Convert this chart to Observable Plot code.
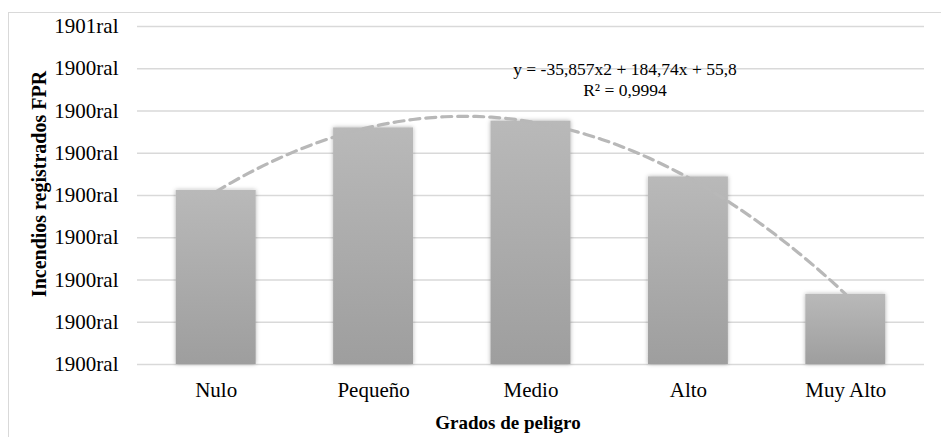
<!DOCTYPE html>
<html><head><meta charset="utf-8">
<script src="https://cdn.jsdelivr.net/npm/d3@7"></script>
<script src="https://cdn.jsdelivr.net/npm/@observablehq/plot@0.6"></script>
<style>
html,body{margin:0;padding:0;background:#fff;overflow:hidden;}
#wrap{position:relative;width:941px;height:437px;overflow:hidden;}
#frame{position:absolute;left:8px;top:12px;width:1100px;height:1100px;border:1.3px solid #d9d9d9;box-sizing:border-box;}
#chart{position:absolute;left:0;top:0;}
#chart svg text{font-family:'Liberation Serif','Times New Roman',serif;}
</style></head><body>
<div id="wrap"><div id="frame"></div><div id="chart"></div></div>
<script>
const categories = ["Nulo", "Pequeño", "Medio", "Alto", "Muy Alto"];
const values = [206, 280, 288, 222, 83];
const yTicks = [0, 50, 100, 150, 200, 250, 300, 350, 400];
const yTickLabels = ["1900ral", "1900ral", "1900ral", "1900ral", "1900ral", "1900ral", "1900ral", "1900ral", "1901ral"];
const trendCoefs = [-35.857, 184.74, 55.8];
const trendLabel = ["y = -35,857x2 + 184,74x + 55,8", "R² = 0,9994"];
const xTitle = "Grados de peligro";
const yTitle = "Incendios registrados FPR";

const positions = categories.map((c, i) => i + 1);
const data = categories.map((c, i) => ({cat: c, pos: positions[i], value: values[i]}));
const trend = d3.range(1, 5.0001, 0.05).map(t => ({t, v: trendCoefs[0] * t * t + trendCoefs[1] * t + trendCoefs[2]}));
const half = 0.254;

const chart = Plot.plot({
  width: 941, height: 437,
  marginLeft: 137, marginRight: 17, marginTop: 26, marginBottom: 73,
  style: {fontFamily: "'Liberation Serif', 'Times New Roman', serif", fontSize: "21px", color: "#000", background: "transparent", overflow: "visible"},
  x: {domain: [0.5, 5.5], axis: null},
  y: {domain: [0, 400], axis: null},
  marks: [
    Plot.gridY(yTicks, {stroke: "#d9d9d9", strokeOpacity: 1, strokeWidth: 1.3}),
    Plot.rectY(data, {x1: d => d.pos - half, x2: d => d.pos + half, y: "value", fill: "url(#barGrad)"}),
    Plot.line(trend, {x: "t", y: "v", stroke: "#b8b8b8", strokeWidth: 3.2, strokeDasharray: "10,6"}),
    Plot.axisY(yTicks, {tickFormat: d => yTickLabels[yTicks.indexOf(d)], tickSize: 0, tickPadding: 19, label: null, fontSize: 21}),
    Plot.axisX(positions, {tickFormat: d => categories[d - 1], tickSize: 0, tickPadding: 18, label: null, fontSize: 21}),
    Plot.text([trendLabel.join("\n")], {text: d => d, frameAnchor: "top", textAnchor: "middle", lineAnchor: "middle", dx: 94, dy: 52, fontSize: 17.5, lineHeight: 1.25}),
    Plot.text([xTitle], {text: d => d, frameAnchor: "bottom", textAnchor: "middle", lineAnchor: "middle", dx: -23, dy: 58, fontSize: 19, fontWeight: "bold"}),
    Plot.text([yTitle], {text: d => d, frameAnchor: "left", textAnchor: "middle", lineAnchor: "middle", rotate: -90, dx: -98, dy: -11.5, fontSize: 20, fontWeight: "bold"})
  ]
});

const defs = document.createElementNS("http://www.w3.org/2000/svg", "defs");
defs.innerHTML = '<linearGradient id="barGrad" x1="0" y1="0" x2="0" y2="1"><stop offset="0" stop-color="#b9b9b9"/><stop offset="1" stop-color="#9e9e9e"/></linearGradient>' +
  '<filter id="barShadow" x="-20%" y="-20%" width="140%" height="140%"><feDropShadow dx="0" dy="0" stdDeviation="2" flood-color="#000" flood-opacity="0.3"/></filter>';
chart.insertBefore(defs, chart.firstChild);
document.getElementById("chart").appendChild(chart);
const rg = chart.querySelector('g[aria-label="rect"]');
if (rg) rg.setAttribute("filter", "url(#barShadow)");
</script>
</body></html>
